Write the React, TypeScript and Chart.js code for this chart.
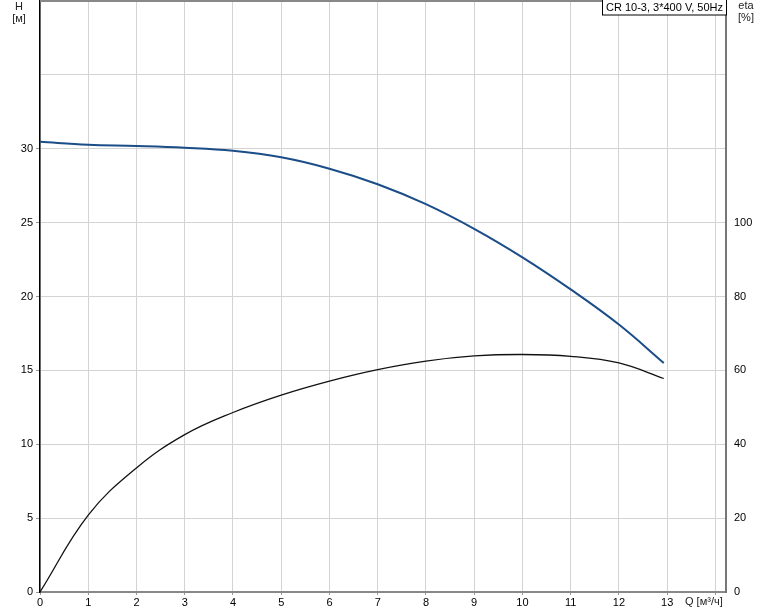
import React, { useEffect, useRef } from "react";
import { Chart, registerables } from "chart.js";

Chart.register(...registerables);

const flowQ = [0, 1, 2, 3, 4, 5, 6, 7, 8, 9, 10, 11, 12, 12.93];
const headH = [30.47, 30.27, 30.19, 30.07, 29.86, 29.42, 28.65, 27.6, 26.25, 24.58, 22.65, 20.48, 18.1, 15.5];
const effEta = [0, 20.8, 33.6, 42.6, 48.6, 53.3, 57.1, 60.2, 62.5, 63.9, 64.3, 63.8, 62.0, 57.8];
const legendText = "CR 10-3, 3*400 V, 50Hz";
const xTitle = "Q [м³/ч]";
const yTitle = ["H", "[м]"];
const y1Title = ["eta", "[%]"];

const FONT = '"Liberation Sans", Arial, sans-serif';

export default function App() {
  const ref = useRef<HTMLCanvasElement | null>(null);
  useEffect(() => {
    const canvas = ref.current!;
    const textPlugin = {
      id: "texts",
      afterDraw(chart: any) {
        const ctx = chart.ctx as CanvasRenderingContext2D;
        const a = chart.chartArea;
        ctx.save();
        ctx.strokeStyle = "#888";
        ctx.lineWidth = 2;
        ctx.beginPath();
        ctx.moveTo(a.left, a.top);
        ctx.lineTo(a.right, a.top);
        ctx.stroke();
        ctx.fillStyle = "#222";
        ctx.font = `11px ${FONT}`;
        ctx.textAlign = "center";
        ctx.textBaseline = "middle";
        ctx.fillText(yTitle[0], 19, 7);
        ctx.fillText(yTitle[1], 19, 19);
        ctx.fillText(y1Title[0], 746, 6);
        ctx.fillText(y1Title[1], 746, 18);
        ctx.textAlign = "left";
        ctx.fillText(xTitle, 685, 602);
        ctx.font = `11px ${FONT}`;
        const w = ctx.measureText(legendText).width;
        const bx = a.right - w - 7;
        ctx.fillStyle = "#fff";
        ctx.fillRect(bx, 0, a.right - bx, 15);
        ctx.strokeStyle = "#000";
        ctx.lineWidth = 1;
        ctx.strokeRect(bx + 0.5, -0.5, a.right - bx, 15.5);
        ctx.fillStyle = "#000";
        ctx.textBaseline = "middle";
        ctx.fillText(legendText, bx + 4, 8);
        ctx.restore();
      },
    };
    const noPad = (s: any) => {
      s.paddingTop = 0;
      s.paddingLeft = 0;
      s.paddingRight = 0;
    };
    const chart = new Chart(canvas, {
      type: "line",
      data: {
        datasets: [
          {
            label: "H",
            data: flowQ.map((q, i) => ({ x: q, y: headH[i] })),
            borderColor: "#1b4d88",
            borderWidth: 2,
            pointRadius: 0,
            tension: 0.4,
            yAxisID: "y",
          },
          {
            label: "eta",
            data: flowQ.map((q, i) => ({ x: q, y: effEta[i] })),
            borderColor: "#111",
            borderWidth: 1.3,
            pointRadius: 0,
            tension: 0.4,
            yAxisID: "y1",
          },
        ],
      },
      options: {
        animation: false,
        responsive: false,
        devicePixelRatio: 1,
        layout: { padding: { top: 1, left: 0, right: 0, bottom: 0 } },
        plugins: { legend: { display: false }, tooltip: { enabled: false } },
        scales: {
          x: {
            type: "linear",
            min: 0,
            max: 14.22,
            afterFit: (s: any) => { s.height = 19; noPad(s); },
            afterBuildTicks: (s: any) => {
              s.ticks = Array.from({ length: 15 }, (_, i) => ({ value: i }));
            },
            ticks: {
              color: "#000",
              font: { family: FONT, size: 11 },
              padding: 1,
              maxRotation: 0,
              autoSkip: false,
              callback: (v: any) => (v <= 13 ? String(v) : ""),
            },
            grid: { color: "#d3d3d3", lineWidth: 1, tickLength: 3, tickColor: "#999" },
            border: { color: "#888", width: 2 },
          },
          y: {
            type: "linear",
            position: "left",
            min: 0,
            max: 40,
            afterFit: (s: any) => { s.width = 40; noPad(s); },
            afterBuildTicks: (s: any) => {
              s.ticks = Array.from({ length: 9 }, (_, i) => ({ value: i * 5 }));
            },
            ticks: {
              color: "#000",
              font: { family: FONT, size: 11 },
              padding: 3,
              callback: (v: any) => (v <= 30 ? String(v) : ""),
            },
            grid: {
              color: "#d3d3d3",
              lineWidth: 1,
              tickLength: 4,
              tickColor: (c: any) => (c.tick && c.tick.value > 30 ? "rgba(0,0,0,0)" : "#999"),
            },
            border: { color: "#000", width: 1.5 },
          },
          y1: {
            type: "linear",
            position: "right",
            min: 0,
            max: 160,
            afterFit: (s: any) => { s.width = 48; noPad(s); },
            afterBuildTicks: (s: any) => {
              s.ticks = Array.from({ length: 9 }, (_, i) => ({ value: i * 20 }));
            },
            ticks: {
              color: "#000",
              font: { family: FONT, size: 11 },
              padding: 0,
              callback: (v: any) => (v <= 100 ? String(v) : ""),
            },
            grid: { display: false },
            border: { color: "#777", width: 2 },
          },
        },
      },
      plugins: [textPlugin],
    } as any);
    return () => chart.destroy();
  }, []);
  return (
    <div style={{ position: "absolute", left: 0, top: 0, width: 774, height: 611, background: "#fff" }}>
      <canvas ref={ref} width={774} height={611} style={{ width: 774, height: 611, display: "block" }} />
    </div>
  );
}
